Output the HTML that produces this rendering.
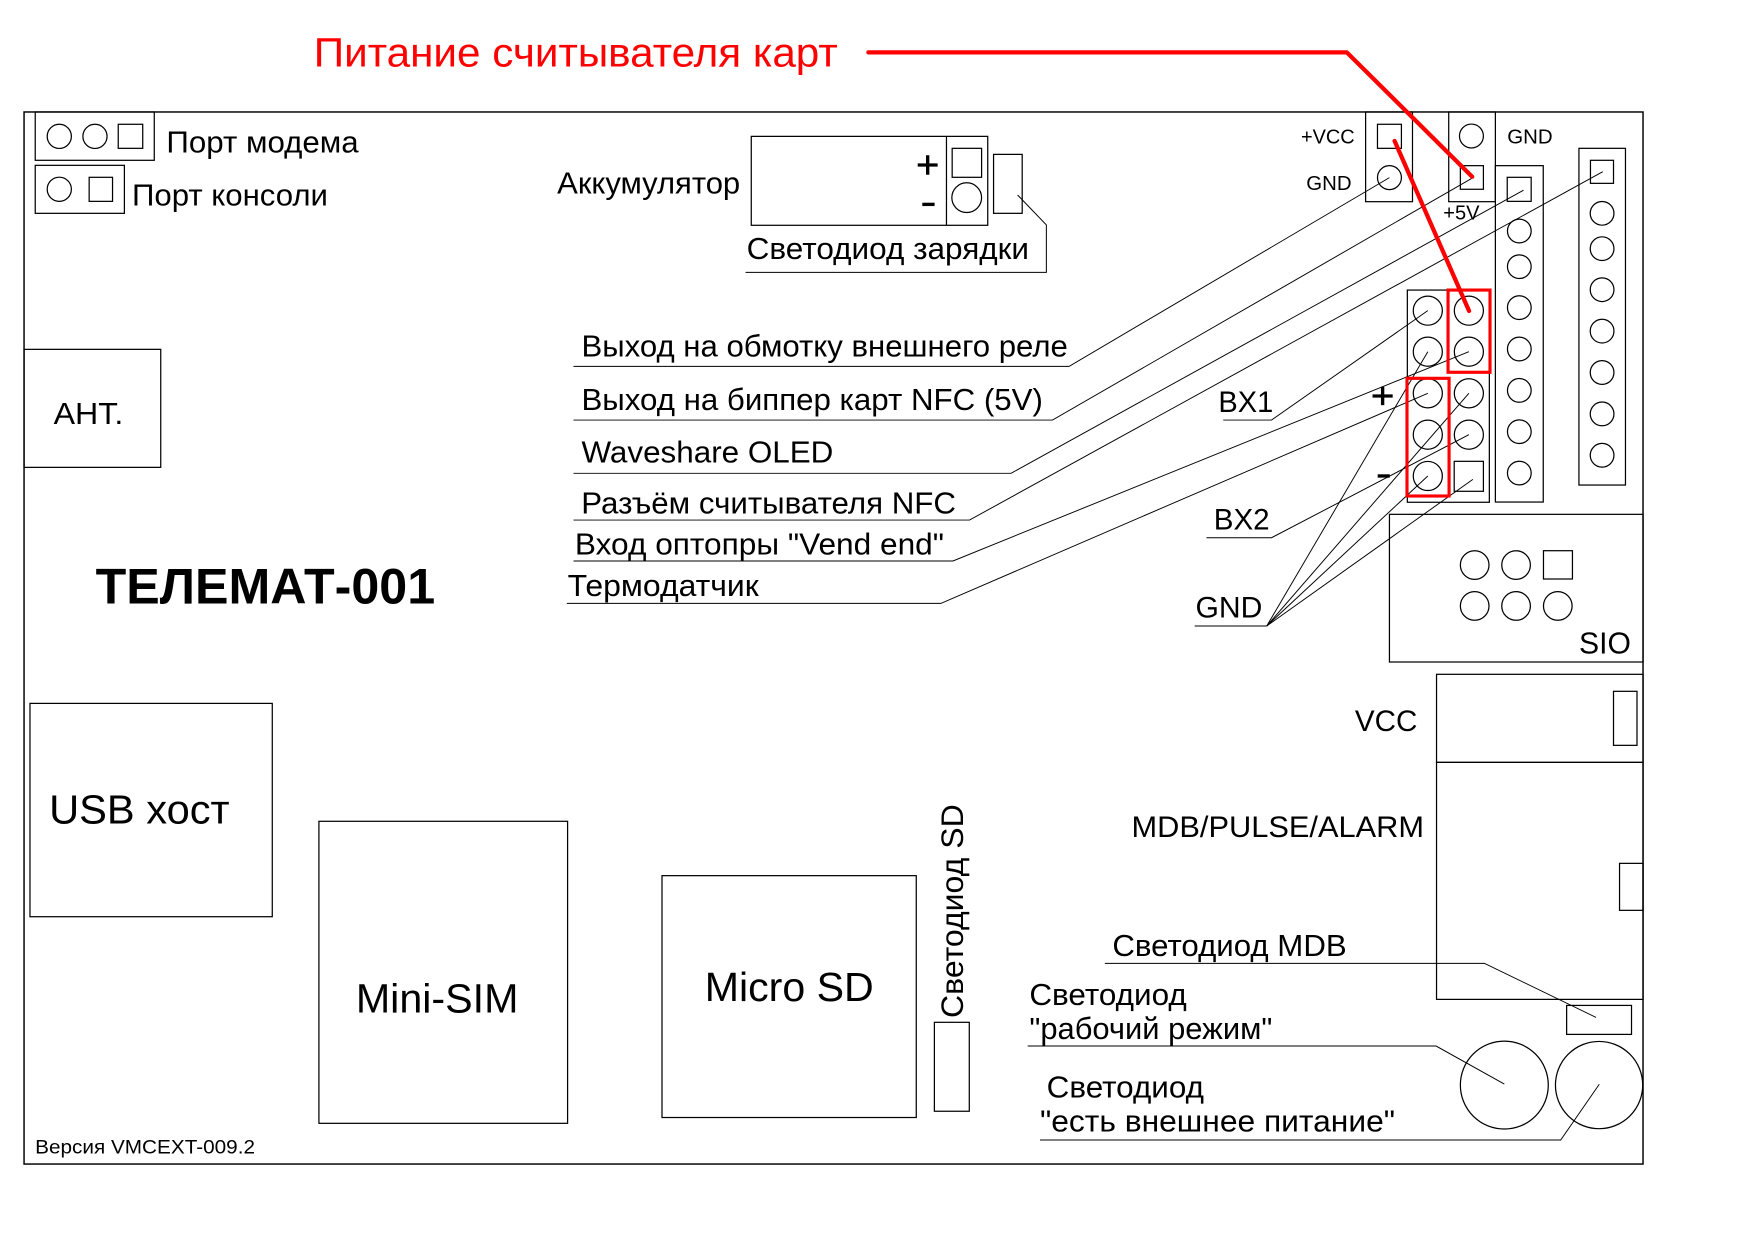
<!DOCTYPE html>
<html><head><meta charset="utf-8"><style>
html,body{margin:0;padding:0;background:#fff;}
svg{display:block;}
text{font-family:"Liberation Sans","DejaVu Sans",sans-serif;fill:#000;}
</style></head><body>
<svg width="1754" height="1240" viewBox="0 0 1568 1108.5" xmlns="http://www.w3.org/2000/svg">
<rect x="0" y="0" width="1568" height="1108.5" fill="#fff"/>
<g fill="none" stroke="#000" stroke-width="1.1">
<!-- board -->
<rect x="21.5" y="100.1" width="1447.3" height="940.5" stroke-width="1.3"/>
<!-- port modem -->
<rect x="31.5" y="100.1" width="106.4" height="43.2"/>
<circle cx="53" cy="121.9" r="10.8"/>
<circle cx="84.9" cy="121.9" r="10.8"/>
<rect x="105.7" y="111.1" width="21.9" height="21.5"/>
<!-- port console -->
<rect x="31.5" y="147.8" width="79.7" height="42.9"/>
<circle cx="53" cy="169.2" r="10.8"/>
<rect x="79.7" y="158.5" width="20.9" height="21.5"/>
<!-- accumulator -->
<rect x="671.6" y="121.9" width="211.4" height="79.5"/>
<line x1="846.1" y1="121.9" x2="846.1" y2="201.4"/>
<rect x="851.2" y="132.6" width="26.3" height="25.9"/>
<circle cx="864.2" cy="176.7" r="13.3"/>
<rect x="888.2" y="138" width="25.6" height="52.7"/>
<polyline points="909.7,174.3 935.4,201.1 935.4,243.5 666.5,243.5" stroke-width="0.9"/>
<!-- ANT -->
<rect x="21.5" y="312.3" width="122.2" height="105.5"/>
<!-- +VCC block -->
<rect x="1220.8" y="100.1" width="41.9" height="80.2"/>
<rect x="1231.4" y="111.1" width="21.4" height="21.5"/>
<circle cx="1242.1" cy="158.8" r="10.7"/>
<!-- 5V block -->
<rect x="1295.1" y="100.1" width="41.7" height="80.2"/>
<circle cx="1315.4" cy="121.6" r="10.7"/>
<rect x="1305.5" y="148.1" width="20.6" height="21.1"/>
<!-- column A -->
<rect x="1336.8" y="148.1" width="42.8" height="300.7"/>
<rect x="1347.4" y="158.5" width="21.4" height="21.5"/>
<circle cx="1358.2" cy="206.5" r="10.6"/>
<circle cx="1358.2" cy="238.4" r="10.6"/>
<circle cx="1358.2" cy="275" r="10.6"/>
<circle cx="1358.2" cy="312" r="10.6"/>
<circle cx="1358.2" cy="349" r="10.6"/>
<circle cx="1358.2" cy="385.9" r="10.6"/>
<circle cx="1358.2" cy="422.9" r="10.6"/>
<!-- column B -->
<rect x="1411.5" y="132.6" width="41.6" height="301"/>
<rect x="1421.8" y="143.3" width="20.6" height="20.6"/>
<circle cx="1432.2" cy="190.7" r="10.6"/>
<circle cx="1432.2" cy="222.3" r="10.6"/>
<circle cx="1432.2" cy="259" r="10.6"/>
<circle cx="1432.2" cy="296" r="10.6"/>
<circle cx="1432.2" cy="333" r="10.6"/>
<circle cx="1432.2" cy="370" r="10.6"/>
<circle cx="1432.2" cy="407" r="10.6"/>
<!-- 2x5 header -->
<rect x="1258.1" y="259.3" width="73.3" height="189.7"/>
<circle cx="1276.4" cy="277.7" r="13"/>
<circle cx="1313.1" cy="277.7" r="13"/>
<circle cx="1276.4" cy="314.4" r="13"/>
<circle cx="1313.1" cy="314.4" r="13"/>
<circle cx="1276.4" cy="351.6" r="13"/>
<circle cx="1313.1" cy="351.6" r="13"/>
<circle cx="1276.4" cy="388.6" r="13"/>
<circle cx="1313.1" cy="388.6" r="13"/>
<circle cx="1276.4" cy="425.5" r="13"/>
<rect x="1300" y="412.4" width="26.1" height="26.8"/>
<!-- SIO -->
<rect x="1242.1" y="459.8" width="226.7" height="132"/>
<circle cx="1318.3" cy="505.1" r="12.8"/>
<circle cx="1355.3" cy="505.1" r="12.8"/>
<rect x="1379.8" y="492.3" width="25.9" height="25.3"/>
<circle cx="1318.3" cy="541.7" r="12.8"/>
<circle cx="1355.3" cy="541.7" r="12.8"/>
<circle cx="1392.6" cy="541.7" r="12.8"/>
<!-- VCC / MDB -->
<rect x="1284.2" y="602.8" width="184.6" height="78.7"/>
<rect x="1442.4" y="618" width="21" height="48.3"/>
<rect x="1284.2" y="681.5" width="184.6" height="211.9"/>
<rect x="1447.8" y="771.8" width="21" height="42"/>
<rect x="1400.5" y="898.8" width="58" height="25.9"/>
<circle cx="1344.8" cy="970" r="39.3"/>
<circle cx="1429.5" cy="970" r="39"/>
<!-- bottom boxes -->
<rect x="26.8" y="628.8" width="216.6" height="190.7"/>
<rect x="285.1" y="734.2" width="222.3" height="270"/>
<rect x="591.8" y="782.8" width="227.3" height="216.2"/>
<rect x="835.3" y="913.9" width="31.2" height="79.5"/>
</g>
<!-- leader lines -->
<g fill="none" stroke="#000" stroke-width="0.85">
<polyline points="512.7,327.5 955.7,327.5 1242.1,158.8"/>
<polyline points="512.7,375.5 940.9,375.5 1315.6,159.5"/>
<polyline points="512.7,423.1 903.8,423.1 1362,170"/>
<polyline points="512.7,464.9 866.7,464.9 1432.8,153.5"/>
<polyline points="512.7,501.5 851.9,501.5 1313.1,314.4"/>
<polyline points="506.7,539.4 841.1,539.4 1276.4,351.6"/>
<polyline points="1093.5,375.5 1136.7,375.5 1276.4,277.7"/>
<polyline points="1078.5,480.7 1136.7,480.7 1313.1,388.6"/>
<polyline points="1068,559.6 1132.4,559.6"/>
<line x1="1132.4" y1="559.6" x2="1276.4" y2="314.4"/>
<line x1="1132.4" y1="559.6" x2="1313.1" y2="351.6"/>
<line x1="1132.4" y1="559.6" x2="1276.4" y2="425.5"/>
<line x1="1132.4" y1="559.6" x2="1316.7" y2="428.5"/>
<polyline points="987.7,861.2 1327,861.2 1426.8,909.5"/>
<polyline points="918.7,935.1 1283.8,935.1 1344.8,969.1"/>
<polyline points="929.7,1019.1 1395.2,1019.1 1429.7,969.3"/>
</g>
<!-- plus / minus marks -->
<g stroke="#000" stroke-width="3" fill="none">
<line x1="820.4" y1="147.5" x2="838.2" y2="147.5"/>
<line x1="829.3" y1="138.8" x2="829.3" y2="156.2"/>
<line x1="824.5" y1="182.7" x2="835.5" y2="182.7"/>
<line x1="1227" y1="354" x2="1245" y2="354"/>
<line x1="1236" y1="345.8" x2="1236" y2="362.2"/>
<line x1="1231.6" y1="425.5" x2="1242.4" y2="425.5"/>
</g>
<!-- red -->
<g fill="none" stroke="#ff0000" stroke-linecap="round" stroke-linejoin="round">
<polyline points="776.3,46.8 1204,46.8 1316.1,158" stroke-width="3.8"/>
<line x1="1246.7" y1="126" x2="1313.3" y2="278" stroke-width="3.8"/>
<rect x="1294.5" y="259.3" width="37.5" height="73.5" stroke-width="2.8" stroke-linecap="butt" stroke-linejoin="miter"/>
<rect x="1257.8" y="338.2" width="37.6" height="105.2" stroke-width="2.8" stroke-linecap="butt" stroke-linejoin="miter"/>
</g>
<!-- texts -->
<text x="280.5" y="59.6" font-size="36.5" textLength="468.4" lengthAdjust="spacingAndGlyphs" style="fill:#ff0000">Питание считывателя карт</text>
<text x="148.8" y="136.5" font-size="27.5" textLength="171.8" lengthAdjust="spacingAndGlyphs">Порт модема</text>
<text x="118" y="183.5" font-size="27.5" textLength="175.2" lengthAdjust="spacingAndGlyphs">Порт консоли</text>
<text x="498.1" y="173" font-size="27.5" textLength="163.6" lengthAdjust="spacingAndGlyphs">Аккумулятор</text>
<text x="667.5" y="231.5" font-size="27.5" textLength="252.4" lengthAdjust="spacingAndGlyphs">Светодиод зарядки</text>
<text x="1163" y="128.1" font-size="18" textLength="48" lengthAdjust="spacingAndGlyphs">+VCC</text>
<text x="1167.8" y="169.9" font-size="18" textLength="40.5" lengthAdjust="spacingAndGlyphs">GND</text>
<text x="1347.4" y="128.1" font-size="18" textLength="40.6" lengthAdjust="spacingAndGlyphs">GND</text>
<text x="1290.2" y="196" font-size="18" textLength="32.4" lengthAdjust="spacingAndGlyphs">+5V</text>
<text x="47.9" y="379" font-size="27.5" textLength="62.3" lengthAdjust="spacingAndGlyphs">АНТ.</text>
<text x="85.5" y="539.4" font-size="45" font-weight="bold" textLength="303.5" lengthAdjust="spacingAndGlyphs">ТЕЛЕМАТ-001</text>
<text x="519.8" y="318.5" font-size="27.5" textLength="434.8" lengthAdjust="spacingAndGlyphs">Выход на обмотку внешнего реле</text>
<text x="519.8" y="366.6" font-size="27.5" textLength="412.5" lengthAdjust="spacingAndGlyphs">Выход на биппер карт NFC (5V)</text>
<text x="519.8" y="413.5" font-size="27.5" textLength="225.2" lengthAdjust="spacingAndGlyphs">Waveshare OLED</text>
<text x="519.6" y="459" font-size="27.5" textLength="335" lengthAdjust="spacingAndGlyphs">Разъём считывателя NFC</text>
<text x="513.9" y="495.5" font-size="27.5" textLength="330" lengthAdjust="spacingAndGlyphs">Вход оптопры &quot;Vend end&quot;</text>
<text x="507.5" y="533" font-size="27.5" textLength="170.8" lengthAdjust="spacingAndGlyphs">Термодатчик</text>
<text x="1089.2" y="368.5" font-size="26.5" textLength="49" lengthAdjust="spacingAndGlyphs">BX1</text>
<text x="1085" y="473.5" font-size="26.5" textLength="50" lengthAdjust="spacingAndGlyphs">BX2</text>
<text x="1068.7" y="552.2" font-size="26.5" textLength="59.8" lengthAdjust="spacingAndGlyphs">GND</text>
<text x="1411.6" y="584.3" font-size="27" textLength="46.4" lengthAdjust="spacingAndGlyphs">SIO</text>
<text x="1211.2" y="653.5" font-size="26.5" textLength="55.9" lengthAdjust="spacingAndGlyphs">VCC</text>
<text x="1011.5" y="748.3" font-size="26.5" textLength="261.5" lengthAdjust="spacingAndGlyphs">MDB/PULSE/ALARM</text>
<text x="994.4" y="854.5" font-size="27.5" textLength="209.5" lengthAdjust="spacingAndGlyphs">Светодиод MDB</text>
<text x="920.2" y="898.5" font-size="27.5" textLength="140.7" lengthAdjust="spacingAndGlyphs">Светодиод</text>
<text x="920.2" y="928.8" font-size="27.5" textLength="217.2" lengthAdjust="spacingAndGlyphs">&quot;рабочий режим&quot;</text>
<text x="935.7" y="981" font-size="27.5" textLength="140.6" lengthAdjust="spacingAndGlyphs">Светодиод</text>
<text x="929.7" y="1011.5" font-size="27.5" textLength="317.4" lengthAdjust="spacingAndGlyphs">&quot;есть внешнее питание&quot;</text>
<text x="43.9" y="736" font-size="36.5" textLength="161.4" lengthAdjust="spacingAndGlyphs">USB хост</text>
<text x="318.1" y="905" font-size="36.5" textLength="145.4" lengthAdjust="spacingAndGlyphs">Mini-SIM</text>
<text x="630" y="895" font-size="36.5" textLength="151.1" lengthAdjust="spacingAndGlyphs">Micro SD</text>
<text x="31.4" y="1031" font-size="17" textLength="196.6" lengthAdjust="spacingAndGlyphs">Версия VMCEXT-009.2</text>
<text transform="translate(861,910) rotate(-90)" x="0" y="0" font-size="28.5" textLength="191" lengthAdjust="spacingAndGlyphs">Светодиод SD</text>
</svg>
</body></html>
